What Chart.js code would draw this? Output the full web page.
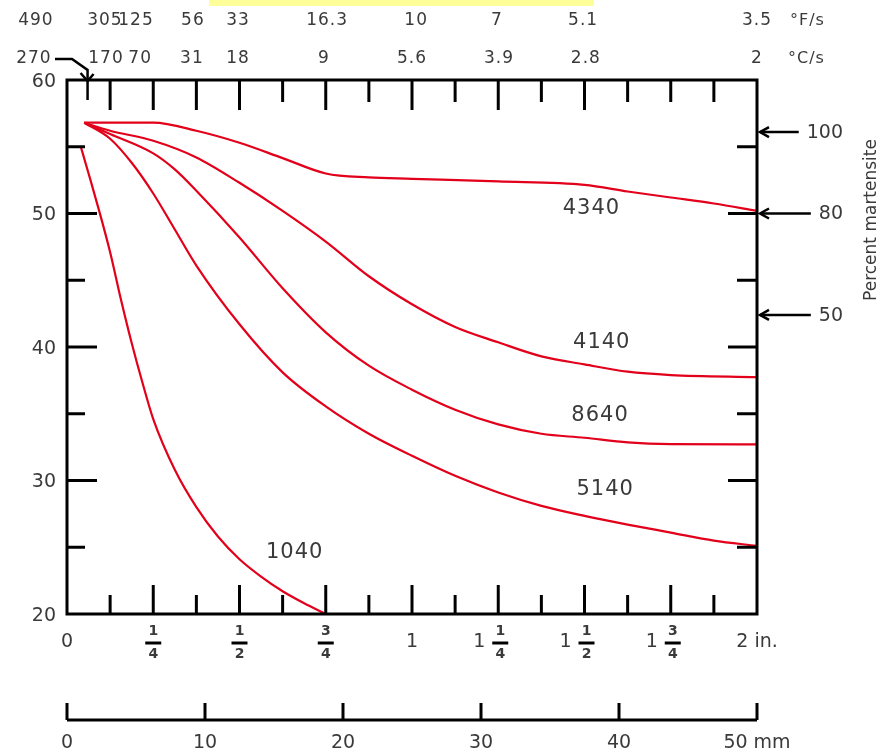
<!DOCTYPE html>
<html>
<head>
<meta charset="utf-8">
<script src="https://cdn.jsdelivr.net/npm/chart.js@4.4.1/dist/chart.umd.min.js"></script>
<style>
  html, body { margin: 0; padding: 0; background: #fff; }
  .chart-box { position: relative; width: 882px; height: 755px; }
</style>
</head>
<body>
<div class="chart-box"><canvas id="chart"></canvas></div>
<script>
// Jominy end-quench curves: distance from quenched end (in.) vs hardness (HRC)
const steels = ['4340', '4140', '8640', '5140', '1040'];

const dist4340 = [0.05, 0.25, 0.375, 0.5, 0.625, 0.75, 0.875, 1.0, 1.25, 1.5, 1.625, 1.75, 1.875, 2.0];
const hrc4340  = [56.8, 56.8, 56.2, 55.3, 54.15, 53.0, 52.7, 52.6, 52.4, 52.15, 51.65, 51.2, 50.75, 50.2];

const dist4140 = [0.05, 0.125, 0.25, 0.375, 0.5, 0.625, 0.75, 0.875, 1.0, 1.125, 1.25, 1.375, 1.5, 1.625, 1.75, 2.0];
const hrc4140  = [56.8, 56.2, 55.45, 54.2, 52.3, 50.2, 47.9, 45.3, 43.2, 41.5, 40.35, 39.3, 38.7, 38.15, 37.9, 37.75];

const dist8640 = [0.05, 0.125, 0.25, 0.3125, 0.375, 0.5, 0.625, 0.75, 0.875, 1.0, 1.125, 1.25, 1.375, 1.5, 1.625, 1.75, 2.0];
const hrc8640  = [56.8, 55.95, 54.5, 53.3, 51.7, 48.2, 44.4, 41.1, 38.6, 36.8, 35.3, 34.2, 33.5, 33.2, 32.85, 32.72, 32.7];

const dist5140 = [0.05, 0.125, 0.1875, 0.25, 0.3125, 0.375, 0.5, 0.625, 0.75, 0.875, 1.0, 1.125, 1.25, 1.375, 1.5, 1.625, 1.75, 1.875, 2.0];
const hrc5140  = [56.8, 55.6, 53.8, 51.5, 48.8, 46.1, 41.7, 38.1, 35.55, 33.5, 31.85, 30.35, 29.1, 28.1, 27.35, 26.7, 26.1, 25.5, 25.1];

const dist1040 = [0.04, 0.0625, 0.09, 0.125, 0.156, 0.1875, 0.219, 0.25, 0.3125, 0.375, 0.4375, 0.5, 0.5625, 0.625, 0.6875, 0.75];
const hrc1040  = [55.0, 53.0, 50.5, 47.1, 43.6, 40.3, 37.3, 34.6, 30.8, 28.0, 25.8, 24.1, 22.8, 21.7, 20.8, 20.0];

// axis tick values / labels
const hrcLabels = [60, 50, 40, 30, 20];
const hrcMinor = [25, 35, 45, 55];
const hrcMajor = [30, 40, 50];
const inchLabels = ['0', '1/4', '1/2', '3/4', '1', '1 1/4', '1 1/2', '1 3/4', '2 in.'];
const inchLabelAt = [0, 0.25, 0.5, 0.75, 1, 1.25, 1.5, 1.75, 2];
const inchMajor = [0.25, 0.5, 0.75, 1, 1.25, 1.5, 1.75];
const inchMinor = [0.125, 0.375, 0.625, 0.875, 1.125, 1.375, 1.625, 1.875];
const topLong = [0.125, 0.25, 0.375, 0.5, 0.75, 1, 1.25, 1.5];
const topShort = [0.625, 0.875, 1.125, 1.375, 1.625, 1.75, 1.875];
const mmTicks = [0, 10, 20, 30, 40, 50];
const mmLabels = ['0', '10', '20', '30', '40', '50 mm'];

// cooling rates at the quenched-end distances
const coolF = ['490', '305', '125', '56', '33', '16.3', '10', '7', '5.1', '3.5'];
const coolFAt = [-0.09, 0.11, 0.20, 0.365, 0.496, 0.754, 1.012, 1.246, 1.496, 2.0];
const coolC = ['270', '170', '70', '31', '18', '9', '5.6', '3.9', '2.8', '2'];
const coolCAt = [-0.096, 0.113, 0.212, 0.362, 0.496, 0.745, 1.0, 1.252, 1.504, 2.0];

const martensite = ['100', '80', '50'];
const martensiteHrc = [56.1, 50.0, 42.4];

// where the steel names sit (in data units)
const steelLabelX = [1.52, 1.55, 1.545, 1.56, 0.66];
const steelLabelY = [50.4, 40.3, 34.85, 29.3, 24.6];

const RED = 'rgb(226, 0, 26)';
const INK = '#3a3a3a';
const FONT = '"DejaVu Sans", Verdana, sans-serif';

const curves = [
  [dist4340, hrc4340], [dist4140, hrc4140], [dist8640, hrc8640], [dist5140, hrc5140], [dist1040, hrc1040]
];

const datasets = curves.map((c, k) => ({
  label: steels[k],
  data: c[0].map((d, i) => ({ x: d, y: c[1][i] })),
  borderColor: RED,
  borderWidth: 2.2,
  pointRadius: 0,
  fill: false,
  cubicInterpolationMode: 'monotone'
}));

function text(ctx, str, x, y, size, align) {
  ctx.font = size + 'px ' + FONT;
  ctx.textAlign = align || 'center';
  ctx.textBaseline = 'middle';
  ctx.fillText(str, x, y);
}

function line(ctx, x1, y1, x2, y2) {
  ctx.beginPath();
  ctx.moveTo(x1, y1);
  ctx.lineTo(x2, y2);
  ctx.stroke();
}

function drawFraction(ctx, num, den, cx) {
  ctx.font = 'bold 14px ' + FONT;
  ctx.textAlign = 'center';
  ctx.textBaseline = 'middle';
  ctx.fillText(num, cx, 631);
  ctx.fillText(den, cx, 654);
  ctx.lineWidth = 3;
  line(ctx, cx - 8, 643, cx + 8, 643);
}

const decorPlugin = {
  id: 'decor',
  afterDatasetsDraw(chart) {
    const ctx = chart.ctx;
    const a = chart.chartArea;
    const xs = chart.scales.x, ys = chart.scales.y, mm = chart.scales.mm;
    ctx.save();

    // highlight strip at the very top
    ctx.fillStyle = '#ffff99';
    ctx.fillRect(209, 0, 385, 6);

    ctx.strokeStyle = '#000';
    ctx.lineWidth = 3;
    ctx.strokeRect(a.left, a.top, a.right - a.left, a.bottom - a.top);

    // inward ticks
    topLong.forEach(v => line(ctx, xs.getPixelForValue(v), a.top, xs.getPixelForValue(v), a.top + 30));
    topShort.forEach(v => line(ctx, xs.getPixelForValue(v), a.top, xs.getPixelForValue(v), a.top + 22));
    inchMajor.forEach(v => line(ctx, xs.getPixelForValue(v), a.bottom, xs.getPixelForValue(v), a.bottom - 29));
    inchMinor.forEach(v => line(ctx, xs.getPixelForValue(v), a.bottom, xs.getPixelForValue(v), a.bottom - 19));
    hrcMajor.forEach(v => {
      const y = ys.getPixelForValue(v);
      line(ctx, a.left, y, a.left + 30, y);
      line(ctx, a.right, y, a.right - 29, y);
    });
    hrcMinor.forEach(v => {
      const y = ys.getPixelForValue(v);
      line(ctx, a.left, y, a.left + 18, y);
      line(ctx, a.right, y, a.right - 20, y);
    });

    // arrow from the 270 label down to 1/16 in.
    const x16 = xs.getPixelForValue(1 / 16);
    ctx.lineWidth = 2.5;
    ctx.beginPath();
    ctx.moveTo(55, 59);
    ctx.lineTo(72, 59);
    ctx.lineTo(x16 - 1, 70);
    ctx.lineTo(x16 - 1, a.top + 20);
    ctx.stroke();
    ctx.beginPath();
    ctx.moveTo(x16 - 8, 73);
    ctx.lineTo(x16 - 1, 81);
    ctx.lineTo(x16 + 5, 74);
    ctx.stroke();

    ctx.fillStyle = INK;
    // left hardness labels
    hrcLabels.forEach(v => text(ctx, String(v), 56, ys.getPixelForValue(v) + 2, 19, 'right'));

    // top cooling-rate rows
    ctx.letterSpacing = '1px';
    coolF.forEach((s, i) => text(ctx, s, xs.getPixelForValue(coolFAt[i]), 21, 17));
    coolC.forEach((s, i) => text(ctx, s, xs.getPixelForValue(coolCAt[i]), 59, 17));
    text(ctx, '°F/s', 790, 21, 16, 'left');
    text(ctx, '°C/s', 788, 59, 16, 'left');
    ctx.letterSpacing = '0px';

    // bottom inch labels with stacked fractions
    inchLabels.forEach((s, i) => {
      const cx = xs.getPixelForValue(inchLabelAt[i]);
      ctx.fillStyle = INK;
      ctx.strokeStyle = '#000';
      const parts = s.split(' ');
      if (parts.length === 2 && parts[1].indexOf('/') > 0) {
        text(ctx, parts[0], cx - 19, 642, 19);
        const f = parts[1].split('/');
        drawFraction(ctx, f[0], f[1], cx + 2);
      } else if (s.indexOf('/') > 0) {
        const f = s.split('/');
        drawFraction(ctx, f[0], f[1], cx);
      } else {
        text(ctx, s, cx, 642, 19);
      }
    });

    // millimetre scale below
    ctx.strokeStyle = '#000';
    ctx.lineWidth = 3;
    line(ctx, a.left, 720, a.right, 720);
    mmTicks.forEach((v, i) => {
      const x = mm.getPixelForValue(v);
      line(ctx, x, 720, x, 703);
      text(ctx, mmLabels[i], x, 743, 19);
    });

    // percent martensite markers on the right
    ctx.lineWidth = 2.5;
    martensite.forEach((s, i) => {
      const y = ys.getPixelForValue(martensiteHrc[i]);
      ctx.font = '19px ' + FONT;
      const w = ctx.measureText(s).width;
      const tail = 843 - w - 8;
      line(ctx, a.right + 3, y, tail, y);
      ctx.beginPath();
      ctx.moveTo(a.right + 12, y - 5);
      ctx.lineTo(a.right + 3, y);
      ctx.lineTo(a.right + 12, y + 5);
      ctx.stroke();
      text(ctx, s, 843, y + 1, 19, 'right');
    });
    ctx.save();
    ctx.translate(872, 220);
    ctx.rotate(-Math.PI / 2);
    text(ctx, 'Percent martensite', 0, 0, 17);
    ctx.restore();

    // steel names next to their curves
    ctx.letterSpacing = '1px';
    steels.forEach((s, i) => {
      text(ctx, s, xs.getPixelForValue(steelLabelX[i]), ys.getPixelForValue(steelLabelY[i]), 21);
    });
    ctx.restore();
  }
};

new Chart(document.getElementById('chart'), {
  type: 'line',
  data: { datasets: datasets },
  options: {
    responsive: true,
    maintainAspectRatio: false,
    animation: false,
    layout: { padding: { left: 67, right: 125, top: 80, bottom: 141 } },
    plugins: { legend: { display: false }, tooltip: { enabled: false } },
    scales: {
      x: { type: 'linear', min: 0, max: 2, display: false },
      y: { type: 'linear', min: 20, max: 60, display: false },
      mm: { type: 'linear', axis: 'x', min: 0, max: 50, display: false }
    }
  },
  plugins: [decorPlugin]
});
</script>
</body>
</html>
